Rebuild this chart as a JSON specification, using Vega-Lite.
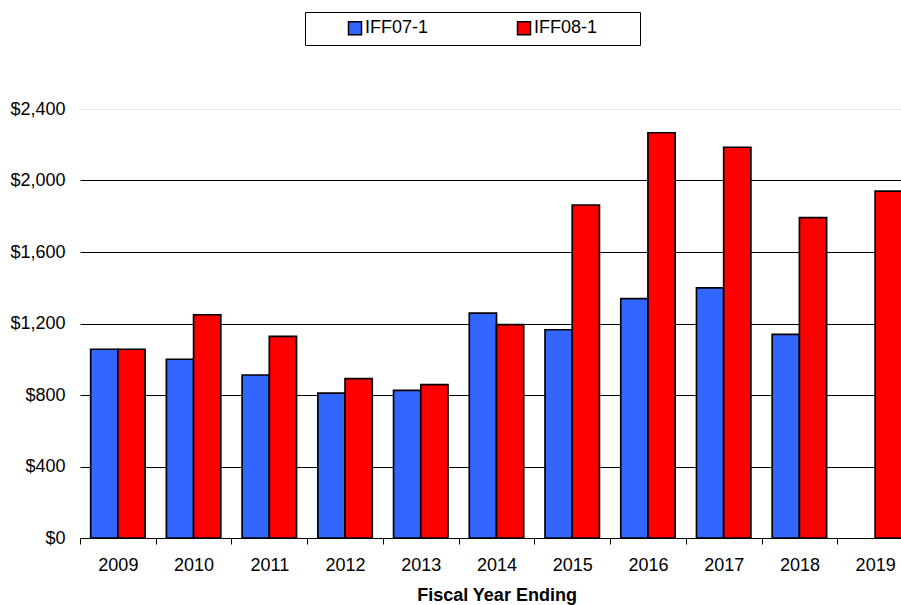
{
  "$schema": "https://vega.github.io/schema/vega-lite/v6.json",
  "width": 821,
  "height": 429,
  "autosize": {"type": "none"},
  "padding": {"left": 80, "top": 109, "right": 0, "bottom": 67},
  "background": "white",
  "config": {"view": {"stroke": null}, "font": "Liberation Sans"},
  "data": {
    "values": [
      {"year": "2009", "series": "IFF07-1", "value": 1056},
      {"year": "2009", "series": "IFF08-1", "value": 1056},
      {"year": "2010", "series": "IFF07-1", "value": 1000},
      {"year": "2010", "series": "IFF08-1", "value": 1249},
      {"year": "2011", "series": "IFF07-1", "value": 912},
      {"year": "2011", "series": "IFF08-1", "value": 1128},
      {"year": "2012", "series": "IFF07-1", "value": 811},
      {"year": "2012", "series": "IFF08-1", "value": 892},
      {"year": "2013", "series": "IFF07-1", "value": 826},
      {"year": "2013", "series": "IFF08-1", "value": 858},
      {"year": "2014", "series": "IFF07-1", "value": 1258},
      {"year": "2014", "series": "IFF08-1", "value": 1194},
      {"year": "2015", "series": "IFF07-1", "value": 1165},
      {"year": "2015", "series": "IFF08-1", "value": 1863},
      {"year": "2016", "series": "IFF07-1", "value": 1339},
      {"year": "2016", "series": "IFF08-1", "value": 2267},
      {"year": "2017", "series": "IFF07-1", "value": 1399},
      {"year": "2017", "series": "IFF08-1", "value": 2186},
      {"year": "2018", "series": "IFF07-1", "value": 1139},
      {"year": "2018", "series": "IFF08-1", "value": 1792},
      {"year": "2019", "series": "IFF08-1", "value": 1941}
    ]
  },
  "mark": {"type": "bar", "stroke": "black", "strokeWidth": 1.7},
  "encoding": {
    "x": {
      "field": "year",
      "type": "nominal",
      "scale": {"range": [0, 833], "paddingInner": 0, "paddingOuter": 0},
      "axis": {
        "title": "Fiscal Year Ending",
        "labelAngle": 0,
        "labelFontSize": 18,
        "labelColor": "black",
        "domainColor": "black",
        "tickColor": "black",
        "tickSize": 6,
        "tickBand": "extent",
        "labelPadding": 12,
        "titleFontSize": 18,
        "titleFontWeight": "bold",
        "titleColor": "black",
        "titleX": 416.5,
        "titlePadding": 12,
        "grid": false
      }
    },
    "xOffset": {
      "field": "series",
      "type": "nominal",
      "scale": {"paddingInner": 0, "paddingOuter": 0.392}
    },
    "y": {
      "field": "value",
      "type": "quantitative",
      "scale": {"domain": [0, 2400], "nice": false},
      "axis": {
        "values": [0, 400, 800, 1200, 1600, 2000, 2400],
        "format": "$,.0f",
        "title": null,
        "domain": false,
        "ticks": false,
        "labelFontSize": 18,
        "labelColor": "black",
        "labelPadding": 15,
        "gridColor": {"condition": {"test": "datum.value === 2400", "value": "#e6e6e6"}, "value": "black"},
        "gridOpacity": 1
      }
    },
    "color": {
      "field": "series",
      "type": "nominal",
      "scale": {"domain": ["IFF07-1", "IFF08-1"], "range": ["#3366FF", "#FF0000"]},
      "legend": {
        "orient": "none",
        "legendX": 225,
        "legendY": -97,
        "direction": "horizontal",
        "title": "\u00a0",
        "titleOrient": "right",
        "titlePadding": 36,
        "titleFontSize": 4,
        "strokeColor": "black",
        "fillColor": "white",
        "padding": 7,
        "symbolType": "square",
        "symbolSize": 169,
        "symbolStrokeColor": "black",
        "symbolStrokeWidth": 1.5,
        "symbolOpacity": 1,
        "labelFontSize": 18,
        "labelColor": "black",
        "labelOffset": 1,
        "columnPadding": 52,
        "symbolOffset": 34
      }
    }
  }
}
